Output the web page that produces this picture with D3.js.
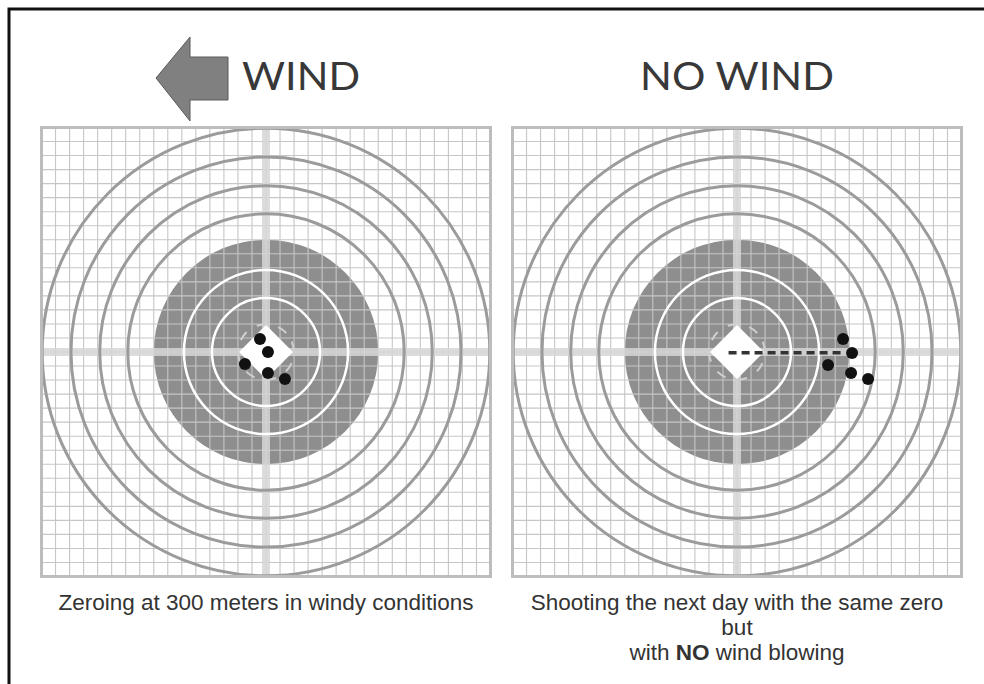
<!DOCTYPE html>
<html>
<head>
<meta charset="utf-8">
<script src="https://cdn.jsdelivr.net/npm/d3@7"></script>
<style>
  body { margin: 0; background: #fff; }
  svg { display: block; }
</style>
</head>
<body>
<svg id="svgChart" width="984" height="684"></svg>
<script>
// titles and captions of the two targets
var titles = ["WIND", "NO WIND"];
var captions = [
    ["Zeroing at 300 meters in windy conditions"],
    ["Shooting the next day with the same zero", "but", "with |NO| wind blowing"]
];

// target rings, in grid squares from the centre
var whiteRings = [3.85, 5.85];
var blackRadius = 8;
var grayRings = [9.85, 11.85, 13.9, 15.95];
var gridTicks = d3.range(-16, 17); // tick positions of the grid

// shot groups (x right, y up), in grid squares
var windShotsX = [-0.43, 0.14, -1.5, 0.14, 1.35];
var windShotsY = [0.93, 0, -0.86, -1.5, -1.92];
var noWindShotsX = [7.56, 8.2, 6.49, 8.13, 9.34];
var noWindShotsY = [0.93, -0.07, -0.93, -1.5, -1.92];

// dashed shift line on the second target
var shiftLineX = [-0.6, 7.6];
var shiftLineY = [-0.05, -0.05];

var svg = d3.select("#svgChart");

// outer frame (cut at the right and bottom)
svg.append("path")
    .attr("d", "M9,684V9H984")
    .attr("fill", "none")
    .attr("stroke", "#111")
    .attr("stroke-width", 3);

var size = 449;
var panelsX = [41.5, 512.5];
var panelY = 127.5;

var shots = [
    windShotsX.map(function(d, i) { return {x: d, y: windShotsY[i]}; }),
    noWindShotsX.map(function(d, i) { return {x: d, y: noWindShotsY[i]}; })
];

panelsX.forEach(function(px, k) {
    var x = d3.scaleLinear().domain([-16, 16]).range([px, px + size]);
    var y = d3.scaleLinear().domain([-16, 16]).range([panelY + size, panelY]);
    var r = function(v) { return x(v) - x(0); };
    var g = svg.append("g");

    g.append("rect")
        .attr("x", x(-16)).attr("y", y(16))
        .attr("width", size).attr("height", size)
        .attr("fill", "#fff");

    // dark centre disc
    g.append("circle")
        .attr("cx", x(0)).attr("cy", y(0))
        .attr("r", r(blackRadius))
        .attr("fill", "#8e8e8e");

    // grid
    g.selectAll(".vline").data(gridTicks).enter().append("line")
        .attr("x1", d => x(d)).attr("x2", d => x(d))
        .attr("y1", y(16)).attr("y2", y(-16))
        .attr("stroke", "#c6c6c6").attr("stroke-width", 1.1);
    g.selectAll(".hline").data(gridTicks).enter().append("line")
        .attr("y1", d => y(d)).attr("y2", d => y(d))
        .attr("x1", x(-16)).attr("x2", x(16))
        .attr("stroke", "#c6c6c6").attr("stroke-width", 1.1);

    // centre cross band
    g.append("rect")
        .attr("x", x(-16)).attr("y", y(0) - 4)
        .attr("width", size).attr("height", 8)
        .attr("fill", "rgba(214,214,214,0.85)");
    g.append("rect")
        .attr("x", x(0) - 4).attr("y", y(16))
        .attr("width", 8).attr("height", size)
        .attr("fill", "rgba(214,214,214,0.85)");

    // rings
    g.selectAll(".gring").data(grayRings).enter().append("circle")
        .attr("cx", x(0)).attr("cy", y(0))
        .attr("r", d => r(d))
        .attr("fill", "none")
        .attr("stroke", "#9b9b9b").attr("stroke-width", 3);
    g.selectAll(".wring").data(whiteRings).enter().append("circle")
        .attr("cx", x(0)).attr("cy", y(0))
        .attr("r", d => r(d))
        .attr("fill", "none")
        .attr("stroke", "#fff").attr("stroke-width", 2.5);

    // white diamond in the middle
    var dd = r(1.92);
    g.append("path")
        .attr("d", "M" + x(0) + "," + (y(0) - dd) + "L" + (x(0) + dd) + "," + y(0)
            + "L" + x(0) + "," + (y(0) + dd) + "L" + (x(0) - dd) + "," + y(0) + "Z")
        .attr("fill", "#fff");
    g.append("circle")
        .attr("cx", x(0)).attr("cy", y(0))
        .attr("r", r(1.98))
        .attr("fill", "none")
        .attr("stroke", "#cfcfcf").attr("stroke-width", 2)
        .attr("stroke-dasharray", "10,12")
        .attr("transform", "rotate(-22," + x(0) + "," + y(0) + ")");

    // target border
    g.append("rect")
        .attr("x", x(-16)).attr("y", y(16))
        .attr("width", size).attr("height", size)
        .attr("fill", "none")
        .attr("stroke", "#bdbdbd").attr("stroke-width", 3);

    if (k == 1) {
        g.append("line")
            .attr("x1", x(shiftLineX[0])).attr("x2", x(shiftLineX[1]))
            .attr("y1", y(shiftLineY[0])).attr("y2", y(shiftLineY[1]))
            .attr("stroke", "#333").attr("stroke-width", 3.5)
            .attr("stroke-dasharray", "8,5");
    }

    // shots
    g.selectAll(".shot").data(shots[k]).enter().append("circle")
        .attr("cx", d => x(d.x)).attr("cy", d => y(d.y))
        .attr("r", 6)
        .attr("fill", "#111");

    // captions
    captions[k].forEach(function(line, i) {
        var t = svg.append("text")
            .attr("x", x(0)).attr("y", 610 + i * 25)
            .attr("text-anchor", "middle")
            .style("font-family", "'Liberation Sans', Arial, sans-serif")
            .style("font-size", "22.5px")
            .attr("fill", "#333");
        line.split("|").forEach(function(part, j) {
            t.append("tspan").text(part)
                .style("font-weight", j == 1 ? "bold" : "normal");
        });
    });
});

// wind arrow
svg.append("path")
    .attr("d", "M156,78L190,37V57H228V100H190V121Z")
    .attr("fill", "#808080")
    .attr("stroke", "#5a5a5a")
    .attr("stroke-width", 1);

// titles
var titleX = [242, 640];
var titleW = [118, 194];
titles.forEach(function(t, i) {
    svg.append("text")
        .attr("x", titleX[i]).attr("y", 90)
        .attr("textLength", titleW[i])
        .attr("lengthAdjust", "spacingAndGlyphs")
        .style("font-family", "Lato, 'Open Sans', sans-serif")
        .style("font-size", "39px")
        .attr("fill", "#383838")
        .text(t);
});
</script>
</body>
</html>
